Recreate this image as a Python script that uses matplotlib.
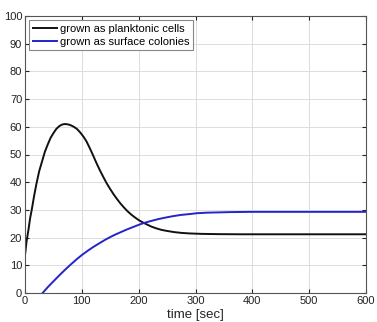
import matplotlib
matplotlib.use("Agg")
import matplotlib.pyplot as plt

plt.rcParams['font.family'] = ['Liberation Sans', 'DejaVu Sans']

# planktonic cells (black)
t_plank = [0, 3, 6, 9, 12, 16, 20, 25, 30, 35, 40, 45, 50, 55, 60, 65, 70, 75, 80, 85, 91, 97, 103, 108,
           114, 120, 126, 132, 138, 144, 150, 156, 162, 168, 174, 180, 187, 194, 201, 208, 215, 222, 230,
           240, 250, 262, 275, 290, 310, 340, 380, 450, 600]
v_plank = [13.7, 19.0, 22.7, 27.0, 30.2, 35.0, 39.3, 44.0, 47.5, 51.0, 53.6, 56.0, 57.7, 59.2, 60.2, 60.8, 61.0, 60.9, 60.6, 60.1, 59.3, 58.0, 56.4, 54.8,
           52.3, 49.6, 46.8, 44.2, 41.8, 39.5, 37.5, 35.6, 33.9, 32.3, 30.9, 29.6, 28.3, 27.2, 26.2, 25.4, 24.7, 24.0, 23.4,
           22.8, 22.4, 22.0, 21.7, 21.5, 21.35, 21.25, 21.2, 21.2, 21.2]

# surface colonies (blue)
t_surf = [31, 40, 50, 60, 70, 80, 91, 100, 110, 120, 132, 141, 150, 160, 170, 180, 190, 200, 208, 220,
          235, 249, 262, 275, 290, 302, 320, 340, 360, 400, 600]
v_surf = [0, 2.1, 4.2, 6.3, 8.3, 10.2, 12.2, 13.7, 15.2, 16.6, 18.1, 19.2, 20.2, 21.2, 22.1, 23.0, 23.8, 24.6, 25.2, 25.9,
          26.7, 27.3, 27.8, 28.2, 28.5, 28.8, 29.0, 29.1, 29.2, 29.3, 29.3]

labels = ['grown as planktonic cells', 'grown as surface colonies']
x_ticks = [0, 100, 200, 300, 400, 500, 600]
y_ticks = [0, 10, 20, 30, 40, 50, 60, 70, 80, 90, 100]

fig = plt.figure(figsize=(3.77, 3.22), dpi=100)
ax = fig.add_axes([25/377, 1-293/322, (366-25)/377, (293-16)/322])

ax.plot(t_plank, v_plank, color='#111111', lw=1.4, label=labels[0])
ax.plot(t_surf, v_surf, color='#2424c8', lw=1.4, label=labels[1])

ax.set_xlim(0, 600)
ax.set_ylim(0, 100)
ax.set_xticks(x_ticks)
ax.set_yticks(y_ticks)
ax.grid(True, color='#dddddd', lw=0.7)
ax.set_axisbelow(True)
ax.tick_params(direction='in', top=True, right=True, labelsize=8, length=3, pad=2, colors='#222222')
for s in ax.spines.values():
    s.set_color('#555555')
    s.set_linewidth(0.8)

ax.set_xlabel('time [sec]', fontsize=9.5, labelpad=2, color='#222222')

leg = ax.legend(loc='upper left', fontsize=8, fancybox=False, framealpha=1,
                edgecolor='#888888', handlelength=2.2, borderaxespad=0.35,
                borderpad=0.35, labelspacing=0.25, handletextpad=0.25)
leg.get_frame().set_linewidth(0.8)

fig.savefig('out.png', dpi=100)
